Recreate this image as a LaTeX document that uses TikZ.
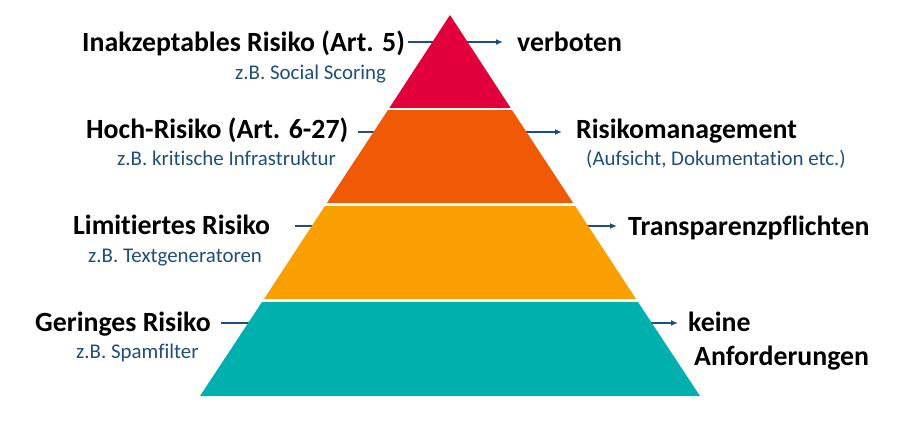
\documentclass[tikz,border=0pt]{standalone}
\usepackage{fontspec}
\setmainfont{Carlito}[Ligatures={NoCommon,NoRare}]
\usetikzlibrary{arrows.meta}
\definecolor{cred}{RGB}{226,0,60}
\definecolor{corange}{RGB}{241,90,4}
\definecolor{cyellow}{RGB}{249,160,0}
\definecolor{cteal}{RGB}{0,176,173}
\definecolor{cblue}{RGB}{31,78,121}
\tikzset{
  mainlbl/.style={anchor=base west,inner sep=0pt,font=\fontsize{27.8}{32}\selectfont\bfseries,text=black},
  sublbl/.style={anchor=base west,inner sep=0pt,font=\fontsize{20.9}{24}\selectfont,text=cblue},
  conn/.style={draw=cblue,line width=1.3pt,-{Latex[length=7pt,width=6pt]}},
  gapline/.style={draw=white,line width=2.4pt}
}
\begin{document}
\begin{tikzpicture}[x=1pt,y=-1pt]
\useasboundingbox[fill=white] (0,0) rectangle (914,423);
% labels
\node[mainlbl] (inak) at (82,51) {Inakzeptables Risiko (Art. 5)};
\node[sublbl] (inaksub) at (235,79) {z.B. Social Scoring};
\node[mainlbl] (hoch) at (86,138) {Hoch-Risiko (Art. 6-27)};
\node[sublbl] (hochsub) at (117,165.5) {z.B. kritische Infrastruktur};
\node[mainlbl] (limit) at (73,234.5) {Limitiertes Risiko};
\node[sublbl] (limitsub) at (88,262) {z.B. Textgeneratoren};
\node[mainlbl] (gering) at (35,331) {Geringes Risiko};
\node[sublbl] (geringsub) at (76,358.5) {z.B. Spamfilter};
\node[mainlbl] (verb) at (517,51) {verboten};
\node[mainlbl] (risk) at (576,138) {Risikomanagement};
\node[sublbl] (risksub) at (586,165.5) {(Aufsicht, Dokumentation etc.)};
\node[mainlbl] (transp) at (628,235) {Transparenzpflichten};
\node[mainlbl] (keine) at (688,331) {keine};
\node[mainlbl] (anf) at (694,365) {Anforderungen};
% connector ends
\coordinate (c1a) at (408,42);  \coordinate (c1b) at (503,42);
\coordinate (c2a) at (358,132); \coordinate (c2b) at (562,132);
\coordinate (c3a) at (295,226); \coordinate (c3b) at (617,226);
\coordinate (c4a) at (221,323); \coordinate (c4b) at (678,323);
\draw[conn] (c1a) -- (c1b);
\draw[conn] (c2a) -- (c2b);
\draw[conn] (c3a) -- (c3b);
\draw[conn] (c4a) -- (c4b);
% pyramid
\fill[cred] (450,15) -- (511,108.5) -- (389,108.5) -- cycle;
\fill[corange] (389,108.5) -- (511,108.5) -- (574,204.3) -- (326,204.3) -- cycle;
\fill[cyellow] (326,204.3) -- (574,204.3) -- (637,300.5) -- (263,300.5) -- cycle;
\fill[cteal] (263,300.5) -- (637,300.5) -- (700,396) -- (200,396) -- cycle;
\draw[gapline] (380,108.8) -- (520,108.8);
\draw[gapline] (316,204.3) -- (584,204.3);
\draw[gapline] (253,300.5) -- (647,300.5);
\end{tikzpicture}
\end{document}
